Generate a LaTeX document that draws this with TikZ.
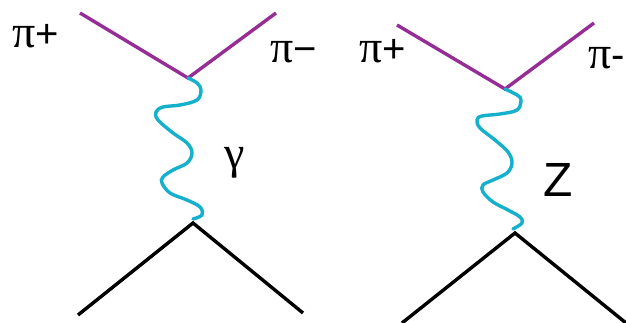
\documentclass[tikz,border=0pt]{standalone}
\usepackage{fontspec}
\setmainfont{Liberation Sans}
\newfontfamily\grk{Liberation Serif}
\definecolor{pionc}{RGB}{150,45,150}
\definecolor{bosonc}{RGB}{20,176,204}
\newcommand{\pisym}{{\grk\fontsize{46}{50}\selectfont π}}
\begin{document}
\begin{tikzpicture}[x=1pt,y=-1pt,
  pion/.style={draw=pionc,line width=3.4pt},
  boson/.style={draw=bosonc,line width=3.4pt,line cap=round},
  fermion/.style={draw=black,line width=3.4pt},
  lbl/.style={inner sep=0pt,font=\fontsize{40}{44}\selectfont}]
\useasboundingbox (0,0) rectangle (626,323);
% left diagram
\coordinate (a1) at (80,13);
\coordinate (b1) at (276,13);
\coordinate (v1) at (188,78);
\coordinate (u1) at (193,223);
\coordinate (c1) at (78,315);
\coordinate (d1) at (303,313);
\draw[pion] (a1) -- (v1) -- (b1);
\draw[boson] plot[smooth,tension=0.6] coordinates {(188,78) (197,83) (201,90) (197,100) (180,105) (163,107) (156,112) (158,120) (173,133) (187,143) (192,153) (187,163) (173,170) (163,177) (162,183) (170,193) (187,200) (200,207) (202,215) (193,219)};
\draw[fermion] (c1) -- (u1) -- (d1);
\node[lbl] (p1) at (36,36) {\pisym+};
\node[lbl] (m1) at (294,52) {\pisym−};
\node[lbl,font=\fontsize{46}{50}\selectfont] (g1) at (235,163) {\grk γ};
% right diagram
\coordinate (a2) at (397,25);
\coordinate (b2) at (594,23);
\coordinate (v2) at (505,89);
\coordinate (u2) at (515,233);
\coordinate (c2) at (402,323);
\coordinate (d2) at (626,323);
\draw[pion] (a2) -- (v2) -- (b2);
\draw[boson] plot[smooth,tension=0.6] coordinates {(505,89) (517,95) (521,100) (517,110) (500,114) (482,116) (477,120) (480,128) (495,140) (508,152) (512,163) (507,173) (493,180) (483,185) (483,192) (493,202) (508,210) (520,217) (522,223) (513,229)};
\draw[fermion] (c2) -- (u2) -- (d2);
\node[lbl] (p2) at (383,51) {\pisym+};
\node[lbl,anchor=west] (m2) at (588,58) {\pisym-};
\node[lbl,font=\fontsize{48}{52}\selectfont] (z2) at (558,180) {Z};
\end{tikzpicture}
\end{document}
